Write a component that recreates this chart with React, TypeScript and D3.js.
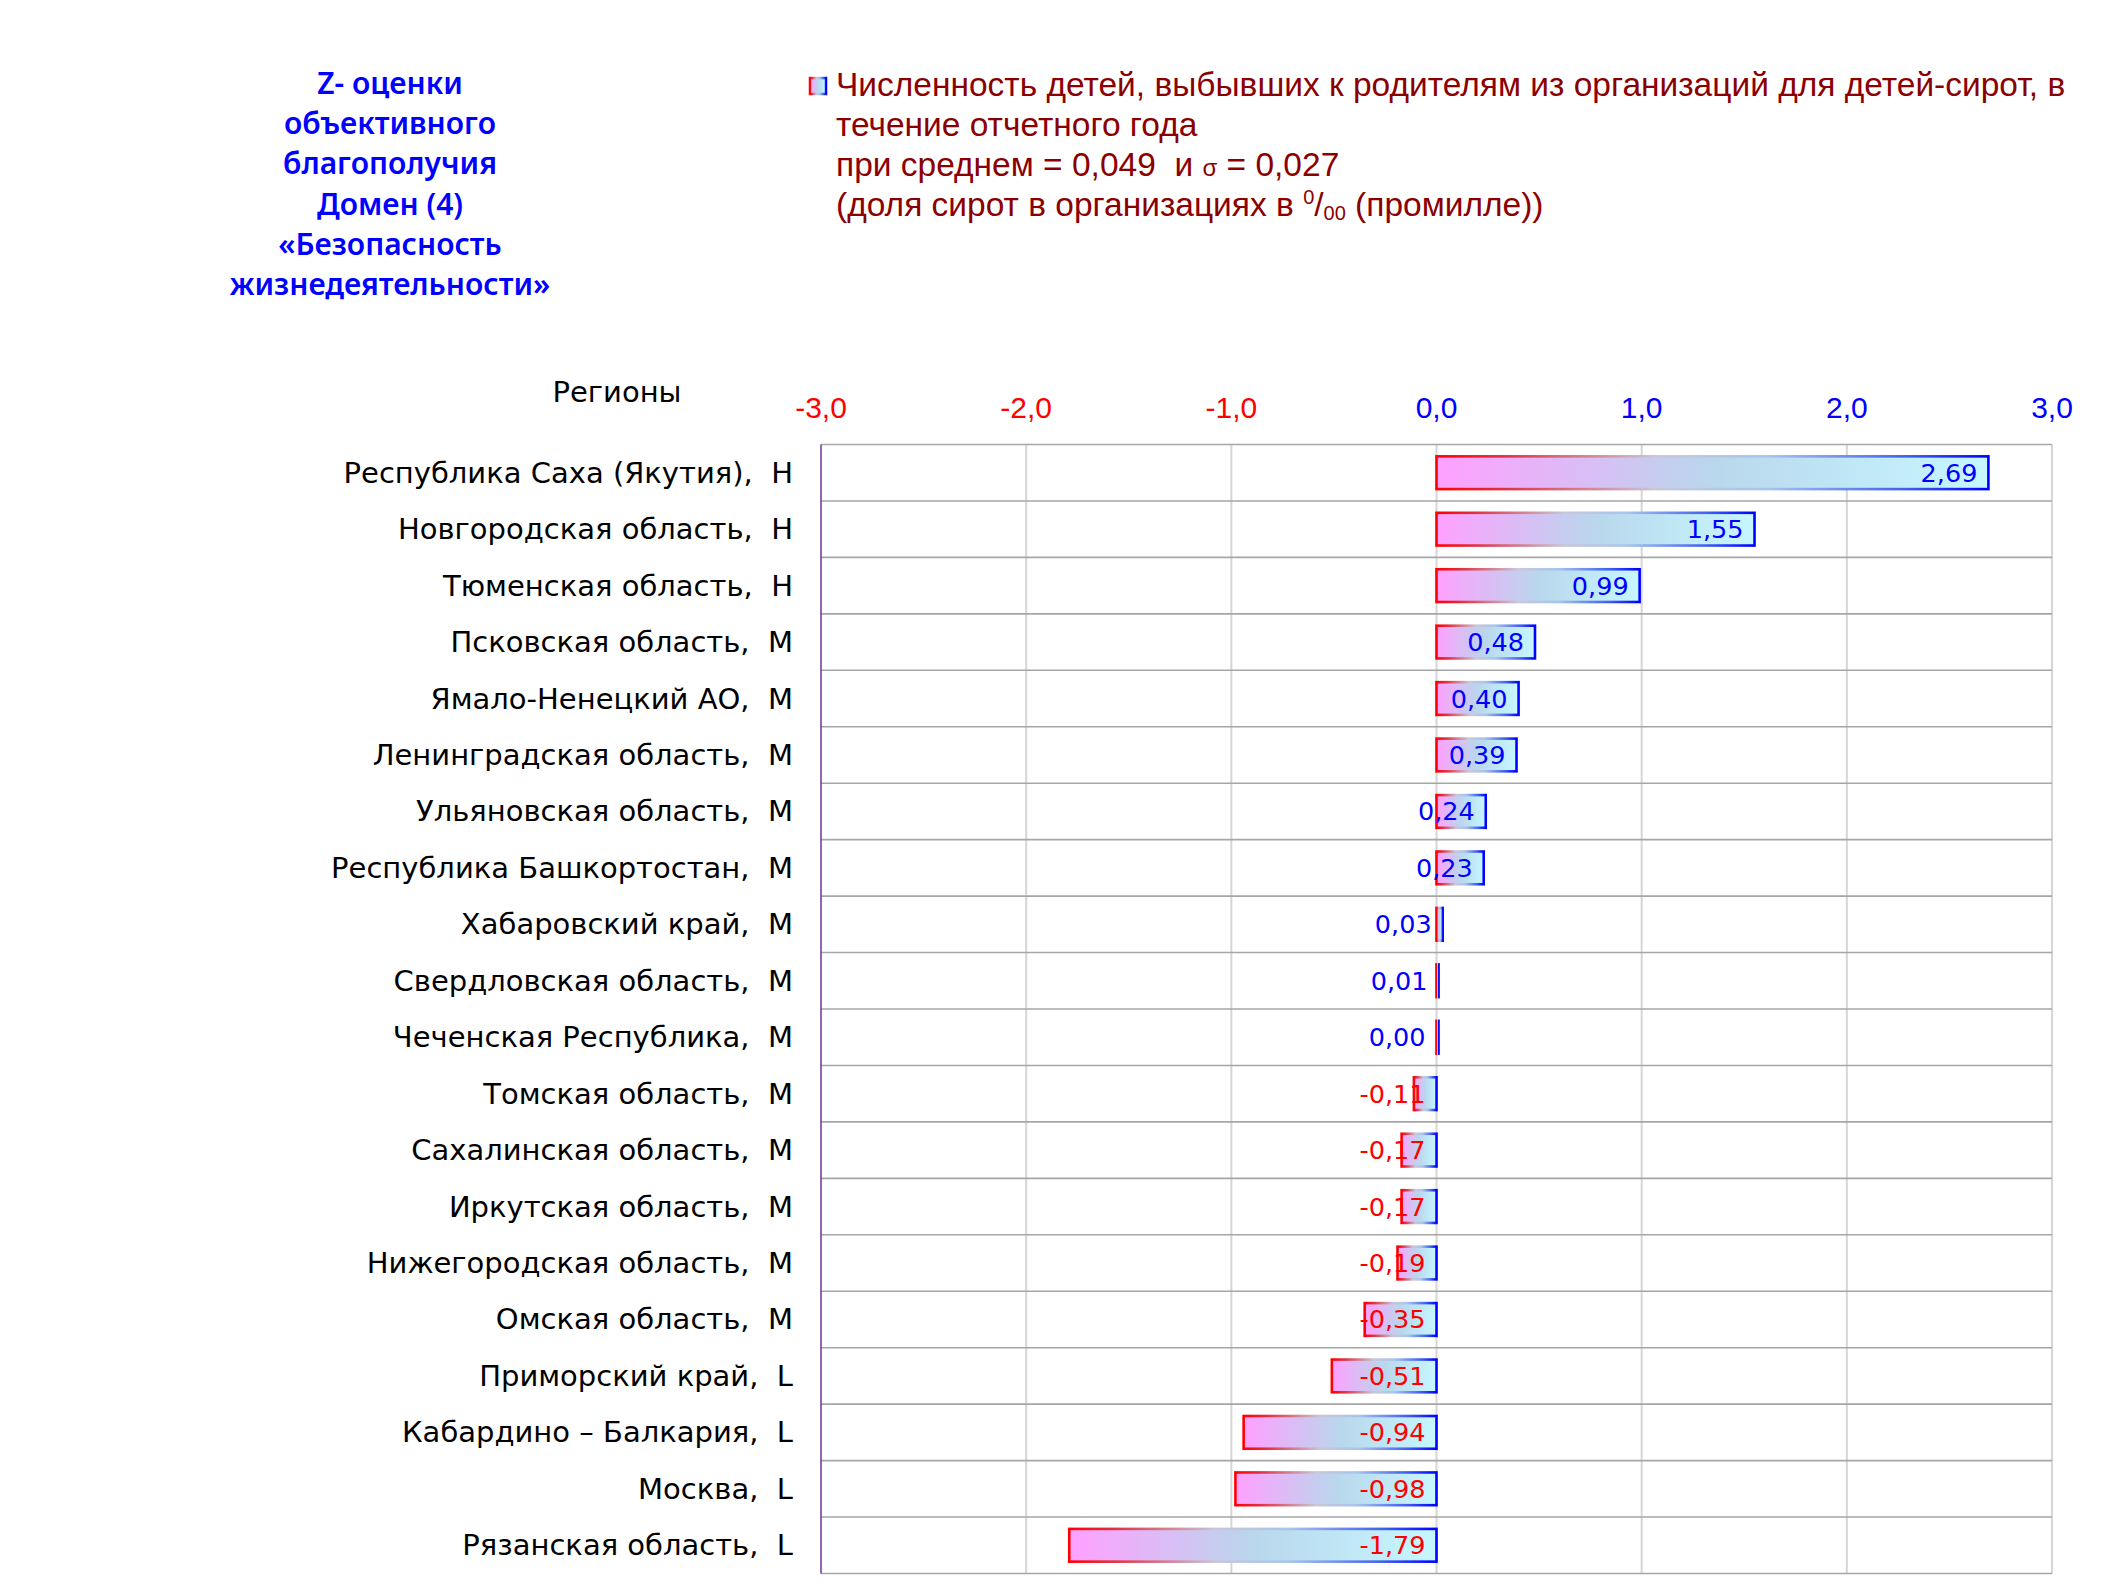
import * as d3 from "d3";

const regions = [
  "Республика Саха (Якутия),  Н",
  "Новгородская область,  Н",
  "Тюменская область,  Н",
  "Псковская область,  М",
  "Ямало-Ненецкий АО,  М",
  "Ленинградская область,  М",
  "Ульяновская область,  М",
  "Республика Башкортостан,  М",
  "Хабаровский край,  М",
  "Свердловская область,  М",
  "Чеченская Республика,  М",
  "Томская область,  М",
  "Сахалинская область,  М",
  "Иркутская область,  М",
  "Нижегородская область,  М",
  "Омская область,  М",
  "Приморский край,  L",
  "Кабардино – Балкария,  L",
  "Москва,  L",
  "Рязанская область,  L",
];

const zValues = [
  2.69, 1.55, 0.99, 0.48, 0.4, 0.39, 0.24, 0.23, 0.03, 0.01, 0.0, -0.11, -0.17, -0.17,
  -0.19, -0.35, -0.51, -0.94, -0.98, -1.79,
];

const ticks = [-3, -2, -1, 0, 1, 2, 3];

const titleLines = [
  "Z- оценки",
  "объективного",
  "благополучия",
  "Домен (4)",
  "«Безопасность",
  "жизнедеятельности»",
];

const fmt = (v: number) => v.toFixed(2).replace(".", ",");
const fmtTick = (v: number) => v.toFixed(1).replace(".", ",");

const W = 2125;
const H = 1594;
const left = 821;
const right = 2052;
const top = 444.5;
const bottom = 1573.5;

const roundFont = "'DejaVu Sans', sans-serif";
const narrowFont = "'Liberation Sans', sans-serif";
const darkRed = "#8B0000";

export default function App() {
  const x = d3.scaleLinear().domain([-3, 3]).range([left, right]);
  const y = d3.scaleBand<string>().domain(regions).range([top, bottom]);
  const bh = y.bandwidth() * 0.58;
  const x0 = x(0);

  return (
    <svg
      width={W}
      height={H}
      viewBox={`0 0 ${W} ${H}`}
      style={{ position: "absolute", left: 0, top: 0, background: "#fff" }}
    >
      <defs>
        <linearGradient id="barFill" x1="0" y1="0" x2="1" y2="0">
          <stop offset="0" stopColor="#FFA0FF" />
          <stop offset="0.5" stopColor="#B9D7EC" />
          <stop offset="1" stopColor="#C6F7FF" />
        </linearGradient>
        <linearGradient id="barStroke" x1="0" y1="0" x2="1" y2="0">
          <stop offset="0" stopColor="#FF0000" />
          <stop offset="0.12" stopColor="#E03040" />
          <stop offset="0.4" stopColor="#C8C8D8" />
          <stop offset="0.6" stopColor="#A8C4EC" />
          <stop offset="0.85" stopColor="#4060F0" />
          <stop offset="1" stopColor="#0000FF" />
        </linearGradient>
      </defs>

      {/* left title */}
      <text
        fontFamily="'Noto Sans', sans-serif"
        fontWeight={600}
        fontSize={30}
        fill="#0000FF"
        textAnchor="middle"
      >
        {titleLines.map((t, i) => (
          <tspan key={i} x={390} y={94 + i * 40.2}>
            {t}
          </tspan>
        ))}
      </text>

      {/* legend */}
      <rect x={810} y={78} width={16} height={16} fill="url(#barFill)" stroke="url(#barStroke)" strokeWidth={2.5} />
      <text fontFamily={narrowFont} fontSize={33.5} fill={darkRed} style={{ whiteSpace: "pre" }}>
        <tspan x={836} y={96}>
          Численность детей, выбывших к родителям из организаций для детей-сирот, в
        </tspan>
        <tspan x={836} y={136}>
          течение отчетного года
        </tspan>
        <tspan x={836} y={176}>
          {"при среднем = 0,049  и "}
          <tspan fontSize={24}>σ</tspan>
          {" = 0,027"}
        </tspan>
        <tspan x={836} y={216}>
          {"(доля сирот в организациях в "}
          <tspan fontSize={20} dy={-12}>0</tspan>
          <tspan fontSize={33.5} dy={12}>/</tspan>
          <tspan fontSize={20} dy={4}>00</tspan>
          <tspan dy={-4}> (промилле))</tspan>
        </tspan>
      </text>

      {/* header */}
      <text x={617} y={402} fontFamily={roundFont} fontSize={29} textAnchor="middle" fill="#000">
        Регионы
      </text>

      {/* tick labels */}
      {ticks.map((t) => (
        <text
          key={t}
          x={x(t)}
          y={418}
          textAnchor="middle"
          fontFamily={narrowFont}
          fontSize={30}
          fill={t < 0 ? "#FF0000" : "#0000FF"}
        >
          {fmtTick(t)}
        </text>
      ))}

      {/* vertical grid */}
      {ticks.slice(1).map((t) => (
        <line key={t} x1={x(t)} x2={x(t)} y1={top} y2={bottom} stroke="#D6D6D6" strokeWidth={2} />
      ))}
      {/* horizontal row lines */}
      {[...regions.map((r) => y(r) as number), bottom].map((yy, i) => (
        <line key={i} x1={left} x2={right} y1={yy} y2={yy} stroke="#A6A6A6" strokeWidth={1.6} />
      ))}
      <line x1={left} x2={left} y1={top} y2={bottom} stroke="#7030A0" strokeWidth={1.5} />

      {/* category labels */}
      {regions.map((r) => (
        <text
          key={r}
          x={793}
          y={(y(r) as number) + y.bandwidth() / 2 + 10}
          textAnchor="end"
          fontFamily={roundFont}
          fontSize={29}
          fill="#000"
          style={{ whiteSpace: "pre" }}
        >
          {r}
        </text>
      ))}

      {/* bars */}
      {regions.map((r, i) => {
        const v = zValues[i];
        const xa = Math.min(x(v), x0);
        const w = Math.max(Math.abs(x(v) - x0), 2);
        const yy = (y(r) as number) + (y.bandwidth() - bh) / 2;
        return (
          <rect
            key={r}
            x={xa}
            y={yy}
            width={w}
            height={bh}
            fill="url(#barFill)"
            stroke="url(#barStroke)"
            strokeWidth={2.6}
          />
        );
      })}

      {/* value labels */}
      {regions.map((r, i) => {
        const v = zValues[i];
        return (
          <text
            key={r}
            x={x(Math.max(0, v)) - 11}
            y={(y(r) as number) + y.bandwidth() / 2 + 9}
            textAnchor="end"
            fontFamily={roundFont}
            fontSize={25.5}
            fill={v < 0 ? "#FF0000" : "#0000FF"}
          >
            {fmt(v)}
          </text>
        );
      })}
    </svg>
  );
}
